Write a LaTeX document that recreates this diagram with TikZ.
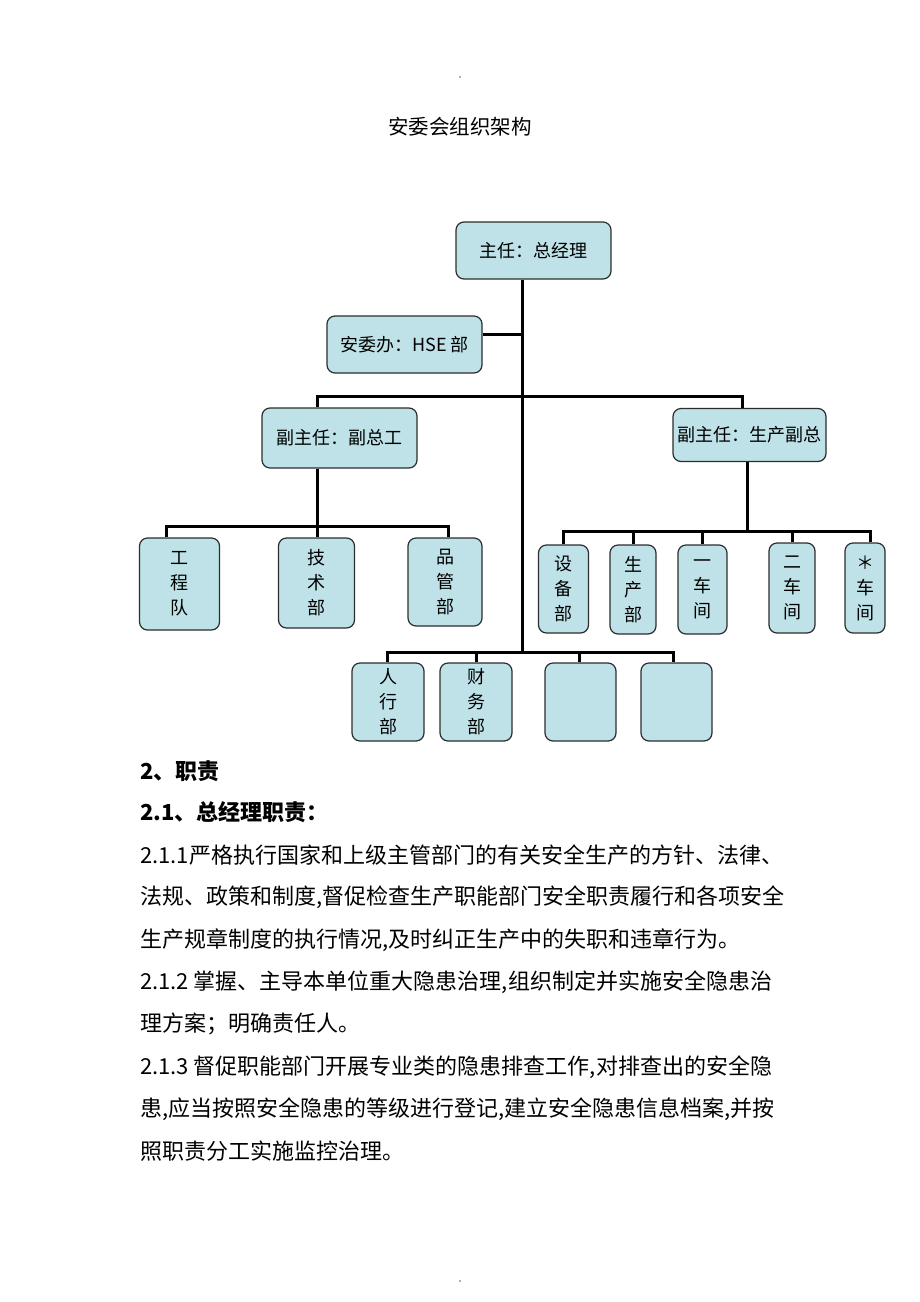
\documentclass[tikz,border=0pt]{standalone}
\usepackage{fontspec}
\setmainfont{Noto Sans CJK SC}
\definecolor{boxblue}{RGB}{190,226,232}
\definecolor{boxline}{RGB}{45,45,45}
\tikzset{
  orgbox/.style={draw=boxline, line width=1.2pt, rounded corners=8pt, fill=boxblue, inner sep=0pt, align=center, font=\fontsize{18}{25}\selectfont},
  conn/.style={line width=3pt, black},
  bodyline/.style={anchor=west, inner sep=0pt, font=\fontsize{22}{26}\selectfont},
}
\begin{document}
\begin{tikzpicture}[x=1pt,y=-1pt]
\useasboundingbox[fill=white] (0,0) rectangle (920,1302);
% page dots
\fill[black!60] (460,77) circle (0.8);
\fill[black!60] (460,1281) circle (0.8);
% title
\node[inner sep=0pt, font=\fontsize{20.5}{24}\selectfont] (title) at (460,127) {安委会组织架构};

% boxes (center, size)
\node[orgbox, minimum width=155, minimum height=57] (zr) at (533.5,250.5) {主任：总经理};
\node[orgbox, minimum width=155, minimum height=57] (hse) at (404.5,344.5) {安委办：HSE 部};
\node[orgbox, minimum width=155, minimum height=60] (fzg) at (339.5,438) {副主任：副总工};
\node[orgbox, minimum width=153, minimum height=53] (fsc) at (749.5,435) {副主任：生产副总};

\node[orgbox, minimum width=80, minimum height=92] (gcd) at (179.5,584) {工\\程\\队};
\node[orgbox, minimum width=76, minimum height=90] (jsb) at (316.5,583) {技\\术\\部};
\node[orgbox, minimum width=74, minimum height=88] (pgb) at (445,582) {品\\管\\部};

\node[orgbox, minimum width=50, minimum height=88] (sbb) at (563.5,589) {设\\备\\部};
\node[orgbox, minimum width=46, minimum height=89] (scb) at (633,589.5) {生\\产\\部};
\node[orgbox, minimum width=49, minimum height=89] (yc) at (702.5,589.5) {一\\车\\间};
\node[orgbox, minimum width=46, minimum height=90] (ec) at (792,588) {二\\车\\间};
\node[orgbox, minimum width=40, minimum height=90] (xc) at (865,588) {＊\\车\\间};

\node[orgbox, minimum width=72, minimum height=78] (rxb) at (388,702) {人\\行\\部};
\node[orgbox, minimum width=72, minimum height=78] (cwb) at (476,702) {财\\务\\部};
\node[orgbox, minimum width=71, minimum height=78] (e1) at (580.5,702) {};
\node[orgbox, minimum width=71, minimum height=78] (e2) at (676.5,702) {};

% connector junctions
\coordinate (t1) at (522,334);
\coordinate (t2) at (522,396);
\coordinate (t3) at (522,652);
\coordinate (h1) at (317,396);
\coordinate (h2) at (742,396);
\coordinate (l1) at (166,526);
\coordinate (l2) at (317,526);
\coordinate (l3) at (448,526);
\coordinate (r1) at (563,531);
\coordinate (r2) at (633,531);
\coordinate (r3) at (702,531);
\coordinate (r4) at (792,531);
\coordinate (r5) at (870,531);
\coordinate (rv) at (747,531);
\coordinate (b1) at (387,652);
\coordinate (b2) at (476,652);
\coordinate (b3) at (579,652);
\coordinate (b4) at (673,652);

% trunk
\draw[conn] (zr.south -| t1) -- (t3);
\draw[conn] (hse.east |- t1) -- (t1);
% second level
\draw[conn] (fzg.north -| h1) -- (h1) -- (h2) -- (fsc.north -| h2);
% left group
\draw[conn] (fzg.south -| l2) -- (jsb.north -| l2);
\draw[conn] (gcd.north -| l1) -- (l1) -- (l3) -- (pgb.north -| l3);
% right group
\draw[conn] (fsc.south -| rv) -- (rv);
\draw[conn] (sbb.north -| r1) -- (r1) -- (r5) -- (xc.north -| r5);
\draw[conn] (r2) -- (scb.north -| r2);
\draw[conn] (r3) -- (yc.north -| r3);
\draw[conn] (r4) -- (ec.north -| r4);
% bottom group
\draw[conn] (rxb.north -| b1) -- (b1) -- (b4) -- (e2.north -| b4);
\draw[conn] (b2) -- (cwb.north -| b2);
\draw[conn] (b3) -- (e1.north -| b3);

% body text
\node[bodyline, font=\fontsize{22}{26}\selectfont\bfseries] (s2) at (140,771) {2、职责};
\node[bodyline, font=\fontsize{22}{26}\selectfont\bfseries] (s21) at (140,812) {2.1、总经理职责：};
\node[bodyline] (p1) at (140,855) {2.1.1严格执行国家和上级主管部门的有关安全生产的方针、法律、};
\node[bodyline] (p2) at (140,897) {法规、政策和制度,督促检查生产职能部门安全职责履行和各项安全};
\node[bodyline] (p3) at (140,940) {生产规章制度的执行情况,及时纠正生产中的失职和违章行为。};
\node[bodyline] (p4) at (140,982) {2.1.2 掌握、主导本单位重大隐患治理,组织制定并实施安全隐患治};
\node[bodyline] (p5) at (140,1024) {理方案；明确责任人。};
\node[bodyline] (p6) at (140,1067) {2.1.3 督促职能部门开展专业类的隐患排查工作,对排查出的安全隐};
\node[bodyline] (p7) at (140,1109) {患,应当按照安全隐患的等级进行登记,建立安全隐患信息档案,并按};
\node[bodyline] (p8) at (140,1151) {照职责分工实施监控治理。};
\end{tikzpicture}
\end{document}
